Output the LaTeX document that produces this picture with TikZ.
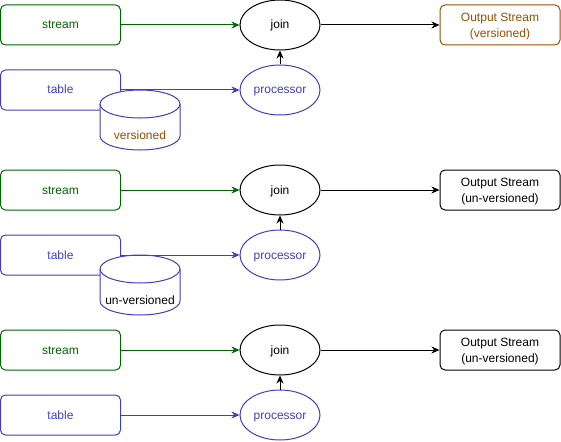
\documentclass[tikz,border=0pt]{standalone}
\usepackage{fontspec}
\setmainfont{Liberation Sans}
\usetikzlibrary{arrows.meta,shapes.geometric}

\definecolor{streamgreen}{HTML}{006600}
\definecolor{tableblue}{HTML}{4040BF}
\definecolor{versionbrown}{HTML}{994C00}

\tikzset{
  one/.style={text height=9pt, text depth=1pt},
  box/.style={draw, rounded corners=5pt, minimum width=120pt, minimum height=40pt, inner sep=0pt, align=center},
  outbox/.style={box, text height=27.1pt, text depth=2.5pt},
  oval/.style={draw, ellipse, minimum width=80pt, minimum height=50pt, inner sep=0pt, one},
  streambox/.style={box, one, streamgreen, text=streamgreen},
  tablebox/.style={box, one, tableblue, text=tableblue},
  arr/.style={-{Stealth[length=8pt,width=7pt,inset=2.5pt]}},
}

\begin{document}
\begin{tikzpicture}[x=1pt, y=-1pt, line width=1pt, font=\fontsize{12}{16}\selectfont]
\useasboundingbox (0,0) rectangle (561,441);

% versioned
\node[streambox] (s1) at (60.5,25) {stream} ;
\node[tablebox] (t1) at (60.5,90) {table} ;
\filldraw[tableblue, fill=white] (100,104) -- (100,136) arc[start angle=180, end angle=0, x radius=40, y radius=14] -- (180,104) arc[start angle=0, end angle=-180, x radius=40, y radius=14] -- cycle ;
\draw[tableblue] (180,104) arc[start angle=0, end angle=180, x radius=40, y radius=14] ;
\node[one, text=versionbrown] (c1) at (140,135) {versioned} ;
\node[oval] (j1) at (280,25) {join} ;
\node[oval, tableblue, text=tableblue] (p1) at (280,90) {processor} ;
\node[outbox, versionbrown, text=versionbrown] (o1) at (500,25) {Output Stream\\(versioned)} ;
\draw[arr, streamgreen] (s1) -- (j1) ;
\draw[arr, tableblue] (t1) -- (p1) ;
\draw[arr] (p1) -- (j1) ;
\draw[arr] (j1) -- (o1) ;

% un-versioned
\node[streambox] (s2) at (60.5,190) {stream} ;
\node[tablebox] (t2) at (60.5,255) {table} ;
\filldraw[tableblue, fill=white] (100,269) -- (100,301) arc[start angle=180, end angle=0, x radius=40, y radius=14] -- (180,269) arc[start angle=0, end angle=-180, x radius=40, y radius=14] -- cycle ;
\draw[tableblue] (180,269) arc[start angle=0, end angle=180, x radius=40, y radius=14] ;
\node[one] (c2) at (140,300) {un-versioned} ;
\node[oval] (j2) at (280,190) {join} ;
\node[oval, tableblue, text=tableblue] (p2) at (280,255) {processor} ;
\node[outbox] (o2) at (500,190) {Output Stream\\(un-versioned)} ;
\draw[arr, streamgreen] (s2) -- (j2) ;
\draw[arr, tableblue] (t2) -- (p2) ;
\draw[arr] (p2) -- (j2) ;
\draw[arr] (j2) -- (o2) ;

% no table storage
\node[streambox] (s3) at (60.5,350) {stream} ;
\node[tablebox] (t3) at (60.5,415) {table} ;
\node[oval] (j3) at (280,350) {join} ;
\node[oval, tableblue, text=tableblue] (p3) at (280,415) {processor} ;
\node[outbox] (o3) at (500,350) {Output Stream\\(un-versioned)} ;
\draw[arr, streamgreen] (s3) -- (j3) ;
\draw[arr, tableblue] (t3) -- (p3) ;
\draw[arr] (p3) -- (j3) ;
\draw[arr] (j3) -- (o3) ;
\end{tikzpicture}
\end{document}
